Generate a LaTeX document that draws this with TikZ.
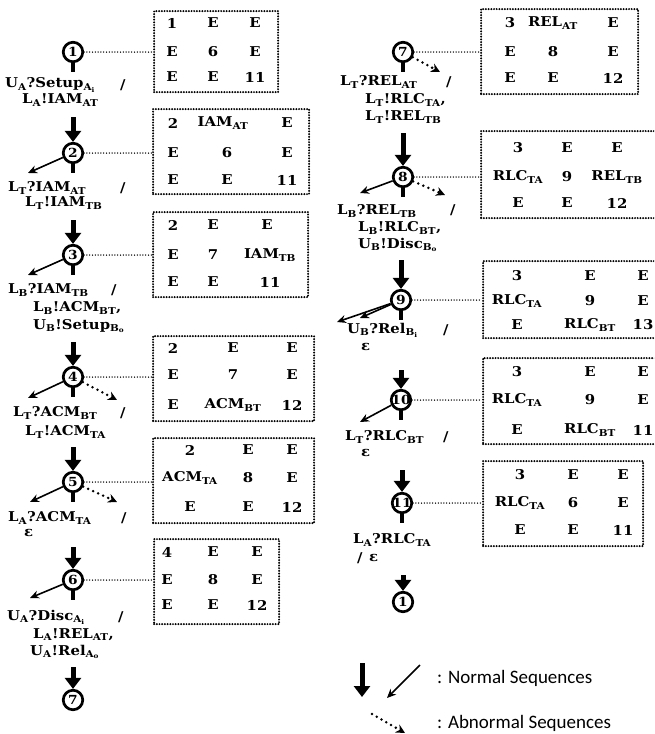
\documentclass[tikz,border=0pt]{standalone}
\usepackage{fontspec}
\setmainfont{DejaVu Serif}[FakeStretch=1.1]
\newfontfamily\legendfont{Carlito}
\usetikzlibrary{arrows.meta}
\newcommand{\lsub}[1]{\textsubscript{#1}}
\tikzset{
 state/.style={circle, draw, line width=2.7pt, minimum size=19.5pt, inner sep=-5pt, font=\bfseries\fontsize{12.5}{12.5}\selectfont},
 stubline/.style={line width=4.5pt},
 bigarrow/.style={line width=5pt, -{Triangle[width=16pt,length=11pt]}},
 thinarrow/.style={line width=1.6pt, -{Stealth[length=9pt,width=8pt]}},
 dotarrow/.style={line width=2.8pt, line cap=round, dash pattern=on 0pt off 5.5pt, -{Stealth[length=9pt,width=9pt]}},
 tbox/.style={draw, line width=2.2pt, line cap=round, dash pattern=on 0pt off 2.7pt, anchor=north west, inner sep=0pt},
 conn/.style={line width=1.5pt, line cap=round, dash pattern=on 0pt off 2.8pt},
 entry/.style={font=\bfseries\fontsize{13.5}{13.5}\selectfont, inner sep=0pt},
 lbl/.style={font=\bfseries\fontsize{13.5}{13.5}\selectfont, anchor=west, inner sep=0pt},
 legtext/.style={font=\legendfont\fontsize{19}{19}\selectfont, anchor=west, inner sep=0pt},
}
\begin{document}
\begin{tikzpicture}[x=1pt,y=-1pt]
\useasboundingbox (0,0) rectangle (654,734);
\clip (0,0) rectangle (654,734);
% ---------- states ----------
\node[state] (s1) at (73,52) {1};
\node[state] (s2) at (73,153) {2};
\node[state] (s3) at (73,255) {3};
\node[state] (s4) at (73,377) {4};
\node[state] (s5) at (73,482) {5};
\node[state] (s6) at (73,580) {6};
\node[state] (s7) at (73,700) {7};
\node[state] (r7) at (403,52) {7};
\node[state] (r8) at (403,177) {8};
\node[state] (r9) at (401,300) {9};
\node[state] (r10) at (401,400) {10};
\node[state] (r11) at (402,503) {11};
\node[state] (r1) at (403,602) {1};
% stubs
\foreach \n in {s1,s2,s3,s4,s5,s6,r7,r8,r9,r10,r11}
  \draw[stubline] (\n.south) -- ++(0,9);
% ---------- big arrows ----------
\coordinate (a2) at (73,117);
\coordinate (a3) at (73,220);
\coordinate (a4) at (73,342);
\coordinate (a5) at (73,447);
\coordinate (a6) at (73,547);
\coordinate (a7) at (73,667);
\coordinate (ar8) at (403,133);
\coordinate (ar9) at (401,260);
\coordinate (ar10) at (401,370);
\coordinate (ar11) at (402,470);
\coordinate (ar1) at (403,575);
\draw[bigarrow] (a2) -- (s2.north);
\draw[bigarrow] (a3) -- (s3.north);
\draw[bigarrow] (a4) -- (s4.north);
\draw[bigarrow] (a5) -- (s5.north);
\draw[bigarrow] (a6) -- (s6.north);
\draw[bigarrow] (a7) -- (s7.north);
\draw[bigarrow] (ar8) -- (r8.north);
\draw[bigarrow] (ar9) -- (r9.north);
\draw[bigarrow] (ar10) -- (r10.north);
\draw[bigarrow] (ar11) -- (r11.north);
\draw[bigarrow] (ar1) -- (r1.north);
% ---------- thin arrows ----------
\coordinate (t2) at (28,173);
\coordinate (t3) at (28,275);
\coordinate (t4) at (28,398);
\coordinate (t5) at (30,502);
\coordinate (t6) at (30,598);
\coordinate (u8) at (360,193);
\coordinate (u9a) at (337,322);
\coordinate (u9b) at (360,318);
\coordinate (u10) at (360,422);
\draw[thinarrow] (s2) -- (t2);
\draw[thinarrow] (s3) -- (t3);
\draw[thinarrow] (s4) -- (t4);
\draw[thinarrow] (s5) -- (t5);
\draw[thinarrow] (s6) -- (t6);
\draw[thinarrow] (r8) -- (u8);
\draw[thinarrow] (r9) -- (u9a);
\draw[thinarrow] (r9) -- (u9b);
\draw[thinarrow] (r10) -- (u10);
% ---------- dotted arrows ----------
\coordinate (d4) at (117,400);
\coordinate (d5) at (117,502);
\coordinate (e7) at (440,72);
\coordinate (e8) at (445,195);
\draw[dotarrow] (s4) -- (d4);
\draw[dotarrow] (s5) -- (d5);
\draw[dotarrow] (r7) -- (e7);
\draw[dotarrow] (r8) -- (e8);
% ---------- boxes ----------
\node[tbox, minimum width=124pt, minimum height=81pt] (b1) at (153,10) {};
\node[tbox, minimum width=156pt, minimum height=85pt] (b2) at (152,108) {};
\node[tbox, minimum width=155pt, minimum height=85pt] (b3) at (152,211) {};
\node[tbox, minimum width=161pt, minimum height=85pt] (b4) at (152,335) {};
\node[tbox, minimum width=161pt, minimum height=85pt] (b5) at (152,437) {};
\node[tbox, minimum width=125pt, minimum height=85pt] (b6) at (153,538) {};
\node[tbox, minimum width=157pt, minimum height=85pt] (b7) at (480,8) {};
\node[tbox, minimum width=190pt, minimum height=87pt] (b8) at (480,130) {};
\node[tbox, minimum width=190pt, minimum height=77pt] (b9) at (482,260) {};
\node[tbox, minimum width=190pt, minimum height=86pt] (b10) at (482,357) {};
\node[tbox, minimum width=160pt, minimum height=85pt] (b11) at (482,460) {};
% connectors
\draw[conn] (s1.east) -- (s1.east -| b1.west);
\draw[conn] (s2.east) -- (s2.east -| b2.west);
\draw[conn] (s3.east) -- (s3.east -| b3.west);
\draw[conn] (s4.east) -- (s4.east -| b4.west);
\draw[conn] (s5.east) -- (s5.east -| b5.west);
\draw[conn] (s6.east) -- (s6.east -| b6.west);
\draw[conn] (r7.east) -- (r7.east -| b7.west);
\draw[conn] (r8.east) -- (r8.east -| b8.west);
\draw[conn] (r9.east) -- (r9.east -| b9.west);
\draw[conn] (r10.east) -- (r10.east -| b10.west);
\draw[conn] (r11.east) -- (r11.east -| b11.west);
% ---------- entries ----------
\foreach \x/\y/\tx [count=\k] in {172/23/1,213/23/E,255/23/E,172/52/E,213/52/6,255/52/E,172/77/E,213/77/E,255/77/11}
  \node[entry] (b1-\k) at (\x,\y) {\tx};
\foreach \x/\y/\tx [count=\k] in {173/123/2,223/123/{IAM\lsub{AT}},287/123/E,173/153/E,227/153/6,287/153/E,173/180/E,227/180/E,287/180/11}
  \node[entry] (b2-\k) at (\x,\y) {\tx};
\foreach \x/\y/\tx [count=\k] in {173/225/2,213/225/E,267/225/E,173/255/E,213/255/7,270/255/{IAM\lsub{TB}},173/282/E,213/282/E,270/282/11}
  \node[entry] (b3-\k) at (\x,\y) {\tx};
\foreach \x/\y/\tx [count=\k] in {173/348/2,233/348/E,292/348/E,173/375/E,233/375/7,292/375/E,173/405/E,233/405/{ACM\lsub{BT}},292/405/12}
  \node[entry] (b4-\k) at (\x,\y) {\tx};
\foreach \x/\y/\tx [count=\k] in {190/450/2,248/450/E,292/450/E,190/478/{ACM\lsub{TA}},248/478/8,292/478/E,190/507/E,248/507/E,292/507/12}
  \node[entry] (b5-\k) at (\x,\y) {\tx};
\foreach \x/\y/\tx [count=\k] in {167/552/4,213/552/E,257/552/E,167/580/E,213/580/8,257/580/E,167/605/E,213/605/E,257/605/12}
  \node[entry] (b6-\k) at (\x,\y) {\tx};
\foreach \x/\y/\tx [count=\k] in {510/23/3,553/23/{REL\lsub{AT}},613/23/E,510/52/E,553/52/8,613/52/E,510/78/E,553/78/E,613/78/12}
  \node[entry] (b7-\k) at (\x,\y) {\tx};
\foreach \x/\y/\tx [count=\k] in {518/148/3,567/148/E,617/148/E,518/177/{RLC\lsub{TA}},567/177/9,617/177/{REL\lsub{TB}},518/203/E,567/203/E,617/203/12}
  \node[entry] (b8-\k) at (\x,\y) {\tx};
\foreach \x/\y/\tx [count=\k] in {517/276/3,590/276/E,643/276/E,517/301/{RLC\lsub{TA}},590/301/9,643/301/E,517/325/E,590/325/{RLC\lsub{BT}},643/325/13}
  \node[entry] (b9-\k) at (\x,\y) {\tx};
\foreach \x/\y/\tx [count=\k] in {517/372/3,590/372/E,643/372/E,517/400/{RLC\lsub{TA}},590/400/9,643/400/E,517/430/E,590/430/{RLC\lsub{BT}},643/430/11}
  \node[entry] (b10-\k) at (\x,\y) {\tx};
\foreach \x/\y/\tx [count=\k] in {520/475/3,573/475/E,623/475/E,520/503/{RLC\lsub{TA}},573/503/6,623/503/E,520/530/E,573/530/E,623/530/11}
  \node[entry] (b11-\k) at (\x,\y) {\tx};
% ---------- transition labels ----------
\node[lbl] (l1a) at (5,85) {U\lsub{A}?Setup\lsub{A\lsub{i}}};
\node[lbl] (l1s) at (120,85) {/};
\node[lbl] (l1b) at (22,100) {L\lsub{A}!IAM\lsub{AT}};
\node[lbl] (l2a) at (8,188) {L\lsub{T}?IAM\lsub{AT}};
\node[lbl] (l2s) at (120,188) {/};
\node[lbl] (l2b) at (25,203) {L\lsub{T}!IAM\lsub{TB}};
\node[lbl] (l3a) at (8,290) {L\lsub{B}?IAM\lsub{TB}};
\node[lbl] (l3s) at (111,290) {/};
\node[lbl] (l3b) at (33,308) {L\lsub{B}!ACM\lsub{BT},};
\node[lbl] (l3c) at (33,326) {U\lsub{B}!Setup\lsub{B\lsub{o}}};
\node[lbl] (l4a) at (13,413) {L\lsub{T}?ACM\lsub{BT}};
\node[lbl] (l4s) at (120,413) {/};
\node[lbl] (l4b) at (25,432) {L\lsub{T}!ACM\lsub{TA}};
\node[lbl] (l5a) at (8,518) {L\lsub{A}?ACM\lsub{TA}};
\node[lbl] (l5s) at (121,518) {/};
\node[lbl] (l5b) at (24,533) {ε};
\node[lbl] (l6a) at (7,617) {U\lsub{A}?Disc\lsub{A\lsub{i}}};
\node[lbl] (l6s) at (118,617) {/};
\node[lbl] (l6b) at (33,635) {L\lsub{A}!REL\lsub{AT},};
\node[lbl] (l6c) at (30,652) {U\lsub{A}!Rel\lsub{A\lsub{o}}};
\node[lbl] (l7a) at (340,82) {L\lsub{T}?REL\lsub{AT}};
\node[lbl] (l7s) at (446,82) {/};
\node[lbl] (l7b) at (365,100) {L\lsub{T}!RLC\lsub{TA},};
\node[lbl] (l7c) at (365,117) {L\lsub{T}!REL\lsub{TB}};
\node[lbl] (l8a) at (337,211) {L\lsub{B}?REL\lsub{TB}};
\node[lbl] (l8s) at (450,210) {/};
\node[lbl] (l8b) at (358,228) {L\lsub{B}!RLC\lsub{BT},};
\node[lbl] (l8c) at (358,245) {U\lsub{B}!Disc\lsub{B\lsub{o}}};
\node[lbl] (l9a) at (347,330) {U\lsub{B}?Rel\lsub{B\lsub{i}}};
\node[lbl] (l9s) at (443,330) {/};
\node[lbl] (l9b) at (361,347) {ε};
\node[lbl] (l10a) at (345,437) {L\lsub{T}?RLC\lsub{BT}};
\node[lbl] (l10s) at (443,437) {/};
\node[lbl] (l10b) at (361,453) {ε};
\node[lbl] (l11a) at (353,540) {L\lsub{A}?RLC\lsub{TA}};
\node[lbl] (l11s) at (357,558) {/};
\node[lbl] (l11b) at (369,558) {ε};
% ---------- legend ----------
\coordinate (g1) at (362,663);
\coordinate (g2) at (362,697);
\coordinate (g3) at (420,665);
\coordinate (g4) at (387,698);
\coordinate (g5) at (372,714);
\coordinate (g6) at (405,733);
\draw[bigarrow] (g1) -- (g2);
\draw[thinarrow] (g3) -- (g4);
\draw[dotarrow] (g5) -- (g6);
\node[legtext] (ln) at (437,678) {: Normal Sequences};
\node[legtext] (la) at (437,723) {: Abnormal Sequences};
\end{tikzpicture}
\end{document}
